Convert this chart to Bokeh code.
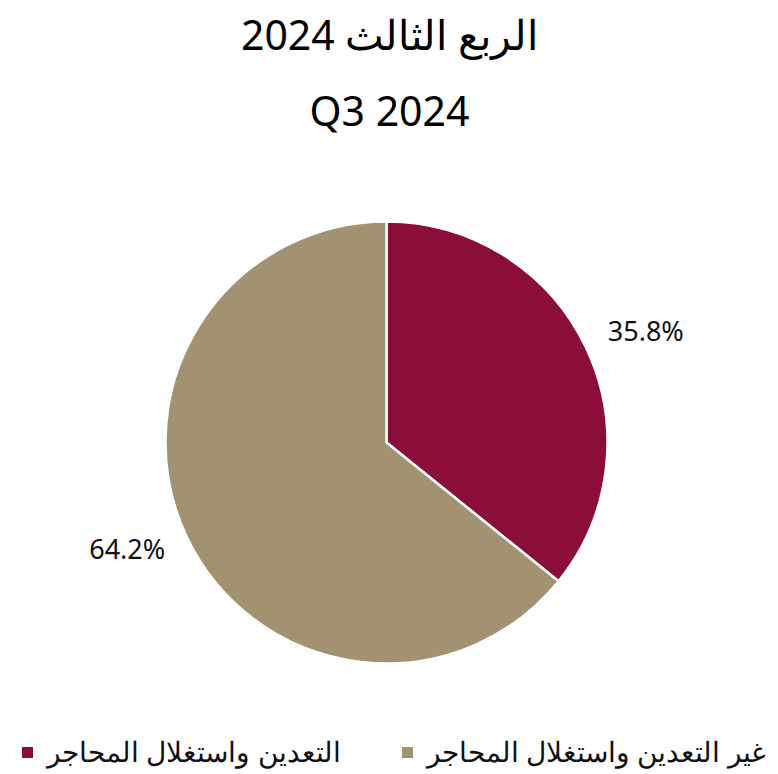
import math
from bokeh.plotting import figure
from bokeh.models import Range1d, ColumnDataSource
from bokeh.core.properties import value
from bokeh.embed import file_html
from bokeh.resources import INLINE

categories = ["التعدين واستغلال المحاجر", "غير التعدين واستغلال المحاجر"]
shares = [35.8, 64.2]
colors = ["#8A0D3A", "#A29272"]
title_ar = "الربع الثالث 2024"
title_en = "Q3 2024"

W, H = 778, 774
p = figure(width=W, height=H, output_backend="svg", toolbar_location=None,
           x_range=Range1d(0, W), y_range=Range1d(0, H), min_border=0)
p.axis.visible = False
p.grid.visible = False
p.outline_line_color = None
p.border_fill_color = "white"

cx, cy, R = 386, 332, 221
total = sum(shares)
starts, ends = [], []
a = math.pi / 2
lab_x, lab_y, lab_t, lab_al = [], [], [], []
for s in shares:
    sweep = 2 * math.pi * s / total
    starts.append(a - sweep)
    ends.append(a)
    mid = a - sweep / 2
    rr = 1.11 * R
    lab_x.append(cx + rr * math.cos(mid))
    lab_y.append(cy + rr * math.sin(mid) + (6 if math.sin(mid) > 0 else 0))
    lab_t.append(f"{s:.1f}%")
    lab_al.append("left" if math.cos(mid) >= 0 else "right")
    a -= sweep

src = ColumnDataSource(dict(start=starts, end=ends, color=colors, cat=categories))
p.wedge(x=cx, y=cy, radius=R, start_angle="start", end_angle="end",
        fill_color="color", line_color="white", line_width=2.5, source=src)

lsrc = ColumnDataSource(dict(x=lab_x, y=lab_y, t=lab_t, al=lab_al))
p.text(x="x", y="y", text="t", text_align="al", text_baseline="middle",
       text_font=value("Noto Sans"), text_font_size="27px", text_color="#111111",
       source=lsrc)

p.text(x=[W / 2, W / 2], y=[H - 33, H - 109], text=[title_ar, title_en],
       text_align="center", text_baseline="middle",
       text_font=value("Noto Sans"), text_font_size="41px", text_color="#000000")

# legend (right to left)
p.scatter(x=[407, 27], y=[H - 752, H - 752], marker="square", size=11,
          fill_color=[colors[1], colors[0]], line_color=None)
p.text(x=[765, 340], y=[H - 750, H - 750], text=[categories[1], categories[0]],
       text_align="right", text_baseline="middle",
       text_font=value("Noto Sans"), text_font_size="28px", text_color="#111111")

open("out.html", "w").write(file_html(p, INLINE))
